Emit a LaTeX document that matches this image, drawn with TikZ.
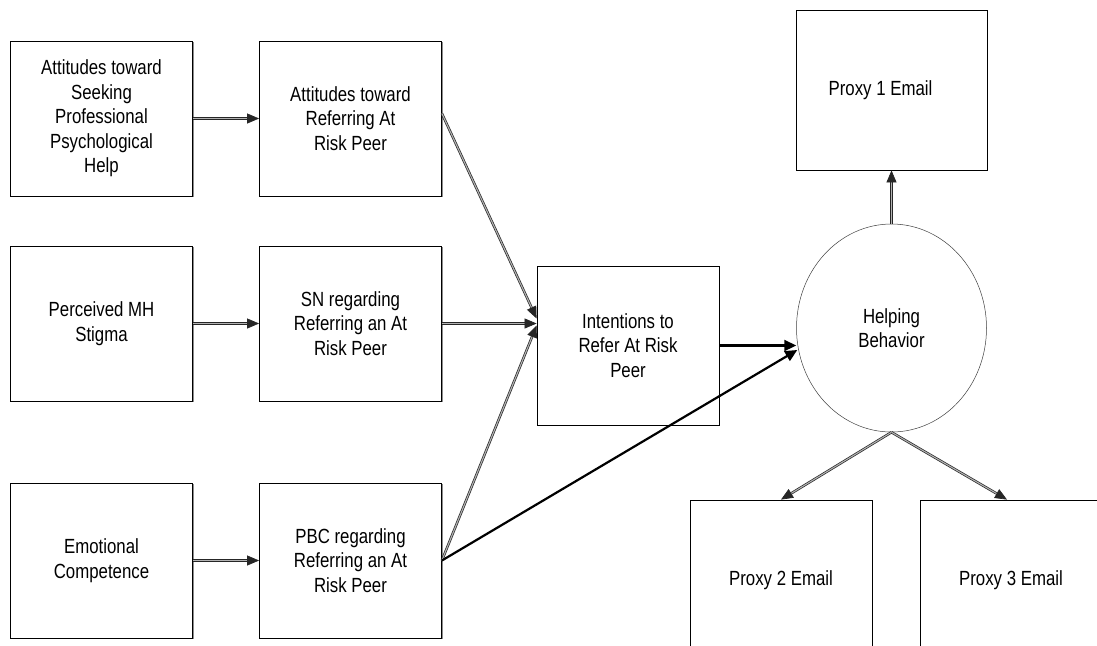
\documentclass[tikz,border=0pt]{standalone}
\usepackage{fontspec}
\setmainfont{Liberation Sans}[FakeStretch=0.82]
\usetikzlibrary{shapes.geometric,arrows.meta,calc,shadows}
\begin{document}
\begin{tikzpicture}[x=1pt,y=-1pt,
  box/.style={draw=black, line width=0.8pt, fill=white, minimum width=182pt, minimum height=155pt,
    inner sep=0pt, align=center, font=\fontsize{20.5}{24.5}\selectfont,
    drop shadow={shadow xshift=1.3pt, shadow yshift=-1.3pt, fill=black!45, opacity=1}},
  ell/.style={ellipse, draw=black!75, line width=0.5pt, fill=white, minimum width=190pt, minimum height=208pt,
    inner sep=0pt, align=center, font=\fontsize{20.5}{24.5}\selectfont},
  dbl/.style={draw=black!85, line width=0.7pt, double=black!30, double distance=1.1pt,
    -{Triangle[length=12pt,width=10pt]}},
  thk/.style={draw=black, line width=2.2pt, -{Triangle[length=12pt,width=11pt]}}
]
\useasboundingbox[fill=white] (0,0) rectangle (1097,645);

\node[box] (a1) at (101.5,118.5) {Attitudes toward\\Seeking\\Professional\\Psychological\\Help};
\node[box] (a2) at (350.5,118.5) {Attitudes toward\\Referring At\\Risk Peer};
\node[box] (b1) at (101.5,323.5) {Perceived MH\\Stigma};
\node[box] (b2) at (350.5,323.5) {SN regarding\\Referring an At\\Risk Peer};
\node[box] (c1) at (101.5,560.5) {Emotional\\Competence};
\node[box] (c2) at (350.5,560.5) {PBC regarding\\Referring an At\\Risk Peer};
\node[box, minimum height=159pt] (int) at (628,345.5) {Intentions to\\Refer At Risk\\Peer};
\node[box, minimum width=191pt, minimum height=160pt] (p1) at (891.5,90) {\hspace*{-22pt}\raisebox{-5pt}{Proxy 1 Email}};
\node[ell] (help) at (891.5,328) {Helping\\Behavior};
\node[box, minimum height=160pt] (p2) at (781,580) {Proxy 2 Email};
\node[box, minimum height=160pt] (p3) at (1011,580) {Proxy 3 Email};

\draw[dbl] (a1.east) -- (a2.west);
\draw[dbl] (b1.east) -- (b2.west);
\draw[dbl] (c1.east) -- (c2.west);
\draw[dbl] ($(a2.east)+(0,-5)$) -- ($(int.west)+(0,-27)$);
\draw[dbl] (b2.east) -- (b2.east -| int.west);
\draw[dbl] (c2.east) -- ($(int.west)+(0,-20)$);
\draw[thk] (int.east) -- (int.east -| help.west);
\draw[thk] (c2.east) -- ($(help.west)+(1,22)$);
\draw[dbl] (help.north) -- (p1.south);
\draw[dbl] (help.south) -- (p2.north);
\draw[dbl] (help.south) -- ($(p3.north)+(-4,0)$);
\end{tikzpicture}
\end{document}
